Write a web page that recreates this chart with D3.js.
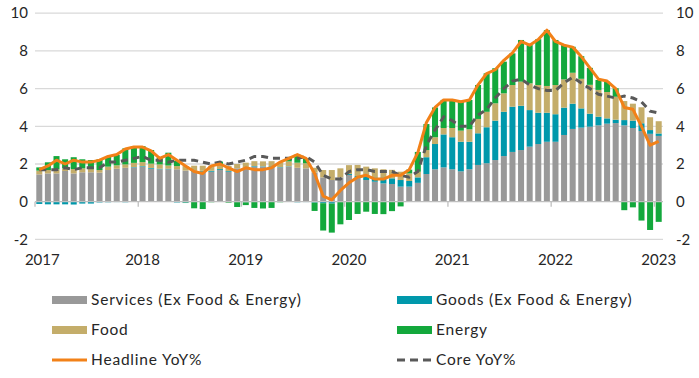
<!DOCTYPE html>
<html><head><meta charset="utf-8">
<script src="https://cdn.jsdelivr.net/npm/d3@7"></script>
<style>
html,body{margin:0;padding:0;background:#fff;}
svg{display:block;font-family:"Lato","DejaVu Sans",sans-serif;}
</style></head>
<body><svg id="chart" width="699" height="378"></svg>
<script>
// Monthly categories: Jul 2017 .. Jul 2023 (73 months)
const categories = d3.timeMonths(new Date(2017, 6, 1), new Date(2023, 7, 1)).map(d3.timeFormat("%b-%y"));
const yearLabels = ["2017", "2018", "2019", "2020", "2021", "2022", "2023"];
const yTicks = [-2, 0, 2, 4, 6, 8, 10];

const services = [1.45,1.5,1.5,1.63,1.5,1.56,1.56,1.54,1.68,1.75,1.8,1.82,1.86,1.75,1.72,
  1.72,1.72,1.65,1.59,1.59,1.59,1.68,1.59,1.77,1.82,1.86,1.86,1.86,1.82,1.86,
  1.8,1.77,1.54,1.29,1.15,1.29,1.42,1.24,1.15,1.06,0.97,0.94,0.8,0.8,
  1.0,1.47,1.72,1.82,1.72,1.61,1.72,1.95,2.04,2.21,2.42,2.64,2.74,2.92,3.06,
  3.18,3.18,3.54,3.86,3.93,3.98,4.05,4.14,4.17,4.05,3.91,3.75,3.6,3.49];
const goods = [-0.12,-0.14,-0.14,-0.14,-0.15,-0.1,-0.1,-0.04,-0.03,-0.02,-0.03,0.02,0.03,0.04,0.03,
  0.03,-0.04,-0.05,0.05,0.05,0.05,0.05,0.04,-0.02,-0.03,0.03,0.02,0.03,0.02,0.02,
  -0.03,-0.02,-0.05,-0.08,-0.1,-0.02,0.05,0.12,0.18,0.23,0.32,0.3,0.35,0.3,
  0.29,0.89,1.34,1.75,1.7,1.57,1.46,1.68,1.91,2.09,2.35,2.4,2.35,1.94,1.66,
  1.54,1.46,1.45,1.34,1.02,0.69,0.46,0.28,0.18,0.28,0.39,0.41,0.2,0.13];
const food = [0.2,0.18,0.22,0.14,0.23,0.21,0.17,0.14,0.18,0.18,0.18,0.22,0.21,0.23,0.23,
  0.17,0.17,0.24,0.27,0.27,0.27,0.27,0.27,0.23,0.25,0.26,0.26,0.26,0.25,0.26,
  0.27,0.27,0.26,0.39,0.53,0.48,0.47,0.59,0.53,0.48,0.43,0.45,0.44,0.4,
  0.3,0.38,0.36,0.34,0.49,0.59,0.66,0.76,0.82,0.92,0.98,1.15,1.28,1.42,1.47,
  1.42,1.55,1.5,1.64,1.57,1.53,1.42,1.4,1.22,1.01,0.9,0.85,0.68,0.65];
const energy = [0.17,0.41,0.7,0.48,0.63,0.48,0.48,0.57,0.53,0.55,0.85,0.88,0.85,0.72,0.35,
  0.68,0.28,-0.02,-0.35,-0.39,-0.03,0.13,-0.05,-0.26,-0.15,-0.33,-0.36,-0.33,-0.03,0.2,
  0.43,0.26,-0.44,-1.45,-1.54,-1.18,-0.97,-0.65,-0.53,-0.65,-0.66,-0.5,-0.25,0.2,
  1.05,1.38,1.58,1.49,1.45,1.54,1.56,1.8,2.04,1.86,1.68,1.68,2.21,2.03,2.43,
  2.96,2.39,1.82,1.38,1.2,0.9,0.53,0.55,0.45,-0.45,-0.3,-1.0,-1.5,-1.07];
const headline = [1.7,1.9,2.2,2.0,2.2,2.1,2.1,2.2,2.4,2.5,2.8,2.9,2.9,2.7,2.3,
  2.5,2.2,1.9,1.6,1.5,1.9,2.0,1.8,1.6,1.8,1.7,1.7,1.8,2.1,2.3,
  2.5,2.3,1.5,0.3,0.1,0.6,1.0,1.3,1.4,1.2,1.2,1.4,1.4,1.7,
  2.6,4.2,5.0,5.4,5.4,5.3,5.4,6.2,6.8,7.0,7.5,7.9,8.5,8.3,8.6,
  9.1,8.5,8.3,8.2,7.7,7.1,6.5,6.4,6.0,5.0,4.9,4.0,3.0,3.2];
const core = [1.7,1.7,1.7,1.8,1.7,1.8,1.8,1.8,2.1,2.1,2.2,2.3,2.4,2.2,2.2,
  2.1,2.2,2.2,2.2,2.1,2.0,2.1,2.0,2.1,2.2,2.4,2.4,2.3,2.3,2.3,
  2.3,2.4,2.1,1.4,1.2,1.2,1.6,1.7,1.7,1.6,1.6,1.6,1.4,1.3,
  1.6,3.0,3.8,4.5,4.3,4.0,4.0,4.6,4.9,5.5,6.0,6.4,6.5,6.2,6.0,
  5.9,5.9,6.3,6.6,6.3,6.0,5.7,5.6,5.5,5.6,5.5,5.3,4.8,4.7];

const seriesNames = ["Services (Ex Food & Energy)", "Goods (Ex Food & Energy)", "Food", "Energy"];
const seriesColors = ["#999999", "#0098AB", "#C4AD6A", "#13A83C"];
const lineNames = ["Headline YoY%", "Core YoY%"];
const lineColors = ["#F28118", "#595959"];

const keys = ["services", "goods", "food", "energy"];
const table = categories.map((c, i) => ({cat: c, services: services[i], goods: goods[i], food: food[i], energy: energy[i]}));

const svg = d3.select("#chart");
const L = 35, R = 663;
const x = d3.scaleBand().domain(categories).range([L, R]).paddingInner(0.3).paddingOuter(0.15);
const y = d3.scaleLinear().domain([-2, 10]).range([239.4, 13.2]);
const step = x.step();

// gridlines
svg.append("g").selectAll("line").data(yTicks.filter(t => t !== 0)).join("line")
  .attr("x1", L).attr("x2", R).attr("y1", d => y(d)).attr("y2", d => y(d))
  .attr("stroke", "#D9D9D9").attr("stroke-width", 1.3);

// stacked bars
const stack = d3.stack().keys(keys).offset(d3.stackOffsetDiverging);
const layers = stack(table);
svg.append("g").selectAll("g").data(layers).join("g")
  .attr("fill", (d, i) => seriesColors[i])
  .selectAll("rect").data(d => d).join("rect")
  .attr("x", d => x(d.data.cat)).attr("width", x.bandwidth())
  .attr("y", d => y(Math.max(d[0], d[1])))
  .attr("height", d => Math.abs(y(d[0]) - y(d[1])));

// zero axis
svg.append("line").attr("x1", L).attr("x2", R).attr("y1", y(0)).attr("y2", y(0))
  .attr("stroke", "#BFBFBF").attr("stroke-width", 1.3);
const tickIdx = yearLabels.map((_, k) => k * 12);
svg.append("g").selectAll("line").data(tickIdx).join("line")
  .attr("x1", d => L + d * step).attr("x2", d => L + d * step)
  .attr("y1", y(0)).attr("y2", y(0) + 5)
  .attr("stroke", "#BFBFBF").attr("stroke-width", 1.3);

// lines
const line = arr => d3.line().x((d, i) => x(categories[i]) + x.bandwidth() / 2).y(d => y(d))(arr);
svg.append("path").attr("d", line(core)).attr("fill", "none")
  .attr("stroke", lineColors[1]).attr("stroke-width", 3).attr("stroke-dasharray", "7,5");
svg.append("path").attr("d", line(headline)).attr("fill", "none")
  .attr("stroke", lineColors[0]).attr("stroke-width", 3).attr("stroke-linejoin", "round");

// y labels
const fs = 15;
svg.append("g").selectAll("text").data(yTicks).join("text")
  .attr("x", 28).attr("y", d => y(d)).attr("dy", "0.35em").attr("text-anchor", "end")
  .attr("font-size", fs).attr("fill", "#262626").text(d => d);
svg.append("g").selectAll("text").data(yTicks).join("text")
  .attr("x", 676).attr("y", d => y(d)).attr("dy", "0.35em").attr("text-anchor", "start")
  .attr("font-size", fs).attr("fill", "#262626").text(d => d);

// x labels
svg.append("g").selectAll("text").data(yearLabels).join("text")
  .attr("x", (d, k) => x(categories[k * 12]) + x.bandwidth() / 2 + (k === 0 ? 3 : 0)).attr("y", 260).attr("dy", "0.35em")
  .attr("text-anchor", "middle").attr("font-size", fs).attr("fill", "#262626").text(d => d);

// legend
const legendItems = [
  {name: seriesNames[0], color: seriesColors[0], type: "bar", col: 0, row: 0},
  {name: seriesNames[1], color: seriesColors[1], type: "bar", col: 1, row: 0},
  {name: seriesNames[2], color: seriesColors[2], type: "bar", col: 0, row: 1},
  {name: seriesNames[3], color: seriesColors[3], type: "bar", col: 1, row: 1},
  {name: lineNames[0], color: lineColors[0], type: "line", col: 0, row: 2},
  {name: lineNames[1], color: lineColors[1], type: "dash", col: 1, row: 2}
];
const colX = [52, 397], rowY = [300, 330, 360];
const lg = svg.append("g").selectAll("g").data(legendItems).join("g")
  .attr("transform", d => `translate(${colX[d.col]},${rowY[d.row]})`);
lg.filter(d => d.type === "bar").append("rect").attr("x", 0).attr("y", -4).attr("width", 35).attr("height", 8)
  .attr("fill", d => d.color);
lg.filter(d => d.type !== "bar").append("line").attr("x1", 0).attr("x2", 35).attr("y1", 0).attr("y2", 0)
  .attr("stroke", d => d.color).attr("stroke-width", 3)
  .attr("stroke-dasharray", d => d.type === "dash" ? "8,5" : null);
lg.append("text").attr("x", 39).attr("y", 0).attr("dy", "0.35em").attr("font-size", 15.5)
  .attr("letter-spacing", 0.8).attr("fill", "#262626").text(d => d.name);
</script></body></html>
